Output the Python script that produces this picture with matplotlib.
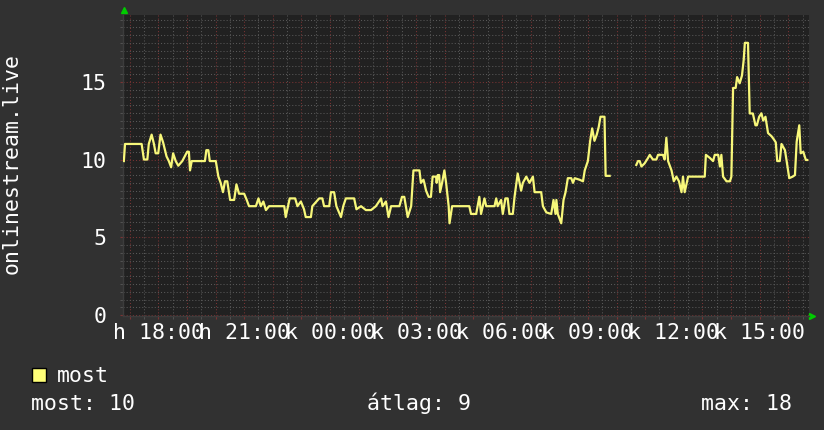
import numpy as np
import matplotlib
matplotlib.use("Agg")
import matplotlib.pyplot as plt
from matplotlib.ticker import MultipleLocator, FixedLocator, FixedFormatter
from matplotlib.patches import Rectangle

# time of day in hours (values above 24 are the next day), listeners
hours = [16.80, 16.84, 17.42, 17.50, 17.62, 17.67, 17.77, 17.85, 17.91, 18.00,
         18.08, 18.17, 18.29, 18.37, 18.45, 18.52, 18.61, 18.70, 18.84, 19.01,
         19.07, 19.11, 19.17, 19.63, 19.68, 19.75, 19.80, 20.01, 20.10, 20.18,
         20.26, 20.33, 20.41, 20.51, 20.65, 20.73, 20.82, 21.00, 21.09, 21.17,
         21.41, 21.50, 21.58, 21.67, 21.76, 21.87, 22.40, 22.45, 22.53, 22.59,
         22.78, 22.86, 22.98, 23.09, 23.15, 23.33, 23.38, 23.62, 23.73, 23.79,
         23.97, 24.03, 24.14, 24.22, 24.38, 24.46, 24.55, 24.84, 24.92, 25.08,
         25.25, 25.43, 25.60, 25.78, 25.83, 25.95, 26.04, 26.13, 26.42, 26.51,
         26.59, 26.71, 26.83, 26.91,
         27.12, 27.17, 27.26, 27.29, 27.35, 27.44, 27.52, 27.58, 27.70, 27.72,
         27.76, 27.81, 27.84, 27.91, 27.99, 28.05, 28.14, 28.17, 28.26, 28.86,
         28.92, 29.10, 29.15, 29.21, 29.27, 29.39, 29.45, 29.74, 29.80, 29.85,
         29.97, 30.03, 30.12, 30.20, 30.26, 30.38, 30.44, 30.55, 30.67, 30.73,
         30.85, 30.96, 31.08, 31.14, 31.37, 31.43, 31.55, 31.72, 31.80, 31.87,
         31.90, 31.95, 32.07, 32.15, 32.22, 32.30, 32.42, 32.48, 32.54, 32.71,
         32.83, 32.89, 33.00, 33.08, 33.15, 33.23, 33.31, 33.38, 33.44, 33.58,
         33.62, 33.76, 34.20,
         34.69, 34.75, 34.81, 34.87, 34.98, 35.10, 35.16, 35.27, 35.39, 35.45,
         35.62, 35.68, 35.74, 35.80, 35.92, 36.00, 36.09, 36.18, 36.27, 36.32,
         36.38, 36.50, 37.08, 37.12, 37.26, 37.37, 37.43, 37.55, 37.61, 37.66,
         37.72, 37.84, 37.96, 38.01, 38.07, 38.16, 38.21, 38.30, 38.38, 38.44,
         38.48, 38.59, 38.65, 38.76, 38.85, 38.90, 38.98, 39.06, 39.12, 39.20,
         39.29, 39.41, 39.49, 39.56, 39.61, 39.70, 39.76, 39.88, 39.94, 40.03,
         40.15, 40.23, 40.29, 40.38, 40.43, 40.52, 40.61, 40.66]

listeners = [9.9, 11.0, 11.0, 10.0, 10.0, 11.0, 11.6, 11.0, 10.4, 10.4,
             11.6, 11.1, 10.2, 9.9, 9.5, 10.4, 9.9, 9.6, 9.9, 10.5,
             10.5, 9.3, 9.9, 9.9, 10.6, 10.6, 9.9, 9.9, 8.9, 8.5,
             7.9, 8.6, 8.6, 7.4, 7.4, 8.4, 7.8, 7.8, 7.4, 7.0,
             7.0, 7.5, 7.0, 7.3, 6.75, 7.0, 7.0, 6.3, 7.0, 7.5,
             7.5, 7.0, 7.3, 6.8, 6.3, 6.3, 7.0, 7.5, 7.5, 7.0,
             7.0, 7.9, 7.9, 7.0, 6.3, 7.0, 7.5, 7.5, 6.8, 7.0,
             6.75, 6.75, 7.0, 7.5, 7.0, 7.3, 6.3, 7.0, 7.0, 7.6,
             7.6, 6.3, 7.0, 9.3,
             9.3, 8.5, 8.7, 8.5, 8.0, 7.6, 7.6, 8.9, 8.9, 8.5,
             9.0, 9.0, 7.9, 8.5, 9.3, 8.5, 7.0, 5.9, 7.0, 7.0,
             6.5, 6.5, 7.0, 7.6, 6.5, 7.5, 7.0, 7.0, 7.5, 7.0,
             7.4, 6.5, 7.5, 7.5, 6.5, 6.5, 7.6, 9.1, 8.0, 8.5,
             8.9, 8.5, 8.9, 7.9, 7.9, 7.0, 6.6, 6.5, 7.4, 6.5,
             7.4, 6.5, 5.9, 7.4, 7.9, 8.8, 8.8, 8.5, 8.8, 8.7,
             8.6, 9.3, 9.9, 11.2, 12.0, 11.2, 11.6, 12.1, 12.75, 12.75,
             8.95, 8.95, np.nan,
             9.65, 9.9, 9.9, 9.55, 9.75, 10.1, 10.3, 10.0, 10.0, 10.3,
             10.3, 10.0, 11.4, 9.9, 9.3, 8.6, 8.9, 8.6, 7.9, 8.9,
             7.9, 8.9, 8.9, 10.3, 10.1, 9.9, 10.3, 10.3, 9.55, 10.3,
             8.9, 8.6, 8.6, 8.9, 14.6, 14.6, 15.3, 14.9, 15.4, 16.4,
             17.5, 17.5, 12.96, 12.96, 12.2, 12.2, 12.75, 12.97, 12.5, 12.75,
             11.7, 11.5, 11.3, 11.1, 9.9, 9.9, 11.0, 10.6, 9.9, 8.8,
             8.9, 9.0, 11.15, 12.2, 10.4, 10.5, 9.97, 9.97]

tick_hours = [18, 21, 24, 27, 30, 33, 36, 39]
tick_labels = ["h 18:00", "h 21:00", "k 00:00", "k 03:00",
               "k 06:00", "k 09:00", "k 12:00", "k 15:00"]
y_ticks = [0, 5, 10, 15]
y_label = "onlinestream.live"
legend_name = "most"
stats = ["most: 10", "átlag: 9", "max: 18"]

BG = "#313131"
CANVAS = "#212121"
LINE = "#f7f77a"
MGRID = "#7a3333"
GRID = "#585858"
FONT = "DejaVu Sans Mono"
FS = 15.5

fig = plt.figure(figsize=(8.24, 4.30), dpi=100)
fig.patch.set_facecolor(BG)
ax = fig.add_axes([123 / 824, 114 / 430, 686 / 824, 301 / 430])
ax.set_facecolor(CANVAS)

ax.plot(hours, listeners, color=LINE, linewidth=1.6, zorder=3)

ax.set_xlim(16.77, 40.72)
ax.set_ylim(-0.06, 19.29)

# hourly red grid, half hour grey grid, labels every 3 hours
hour_ticks = list(range(17, 41))
ax.xaxis.set_major_locator(FixedLocator(hour_ticks))
ax.xaxis.set_major_formatter(FixedFormatter(
    [tick_labels[tick_hours.index(h)] if h in tick_hours else "" for h in hour_ticks]))
ax.xaxis.set_minor_locator(MultipleLocator(0.5))
ax.yaxis.set_major_locator(FixedLocator(y_ticks))
ax.yaxis.set_minor_locator(MultipleLocator(0.5))

ax.grid(which="minor", color=GRID, linestyle=(0, (1, 2)), linewidth=0.75, zorder=0)
ax.grid(which="major", color=MGRID, linestyle=(0, (1, 2)), linewidth=0.75, zorder=1)
ax.set_axisbelow(True)

ax.tick_params(axis="x", which="major", length=2, color=MGRID, pad=3,
               labelsize=FS, labelcolor="white")
ax.tick_params(axis="x", which="minor", length=2, color=GRID)
ax.tick_params(axis="y", which="major", length=2, color=MGRID, pad=10,
               labelsize=FS, labelcolor="white")
ax.tick_params(axis="y", which="minor", length=2, color=GRID)
for lab in ax.get_xticklabels() + ax.get_yticklabels():
    lab.set_family(FONT)

for side in ["top", "right"]:
    ax.spines[side].set_visible(False)
for side in ["left", "bottom"]:
    ax.spines[side].set_color("#3c3c3c")
    ax.spines[side].set_linewidth(1.0)

# green axis arrows
ax.plot([0.002], [1.017], marker="^", color="#00cc00", markersize=5,
        transform=ax.transAxes, clip_on=False)
ax.plot([1.0044], [0.0], marker=">", color="#00cc00", markersize=5,
        transform=ax.transAxes, clip_on=False)

fig.text(12 / 824, 1 - 164 / 430, y_label, rotation=90, ha="center", va="center",
         color="white", family=FONT, fontsize=FS)

# legend
fig.patches.append(Rectangle((32 / 824, 1 - 382 / 430), 14 / 824, 14 / 430,
                             transform=fig.transFigure, facecolor="#ffff77",
                             edgecolor="black", linewidth=1))
fig.text(57 / 824, 1 - 382 / 430, legend_name, ha="left", va="baseline",
         color="white", family=FONT, fontsize=FS)
fig.text(31 / 824, 1 - 410 / 430, stats[0], ha="left", va="baseline",
         color="white", family=FONT, fontsize=FS)
fig.text(367 / 824, 1 - 410 / 430, stats[1], ha="left", va="baseline",
         color="white", family=FONT, fontsize=FS)
fig.text(792 / 824, 1 - 410 / 430, stats[2], ha="right", va="baseline",
         color="white", family=FONT, fontsize=FS)

fig.savefig("out.png", dpi=100, facecolor=BG)
